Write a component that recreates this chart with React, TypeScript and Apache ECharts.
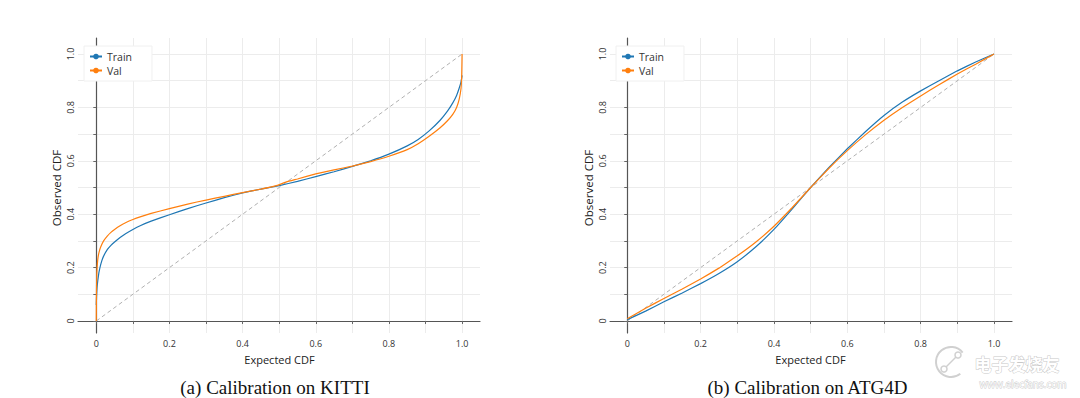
import React, { useEffect, useRef } from "react";
import * as echarts from "echarts";

// ---------- data ----------
const seriesNames = ["Train", "Val"];
const tickValues = [0, 0.1, 0.2, 0.3, 0.4, 0.5, 0.6, 0.7, 0.8, 0.9, 1.0];
const labelValues = [0, 0.2, 0.4, 0.6, 0.8, 1.0];
const diagonal: [number, number][] = [[0, 0], [1, 1]];

// (a) KITTI
const kittiTrain: [number, number][] = [
  [0, 0.06], [0.001, 0.1], [0.002, 0.125], [0.004, 0.15], [0.007, 0.18], [0.01, 0.2],
  [0.015, 0.225], [0.02, 0.243], [0.03, 0.267], [0.04, 0.283], [0.05, 0.296],
  [0.065, 0.313], [0.08, 0.327], [0.1, 0.343], [0.12, 0.357], [0.15, 0.374],
  [0.2, 0.398], [0.25, 0.421], [0.3, 0.442], [0.35, 0.462], [0.4, 0.48],
  [0.45, 0.494], [0.5, 0.507], [0.55, 0.523], [0.6, 0.541], [0.65, 0.559],
  [0.7, 0.579], [0.75, 0.6], [0.8, 0.625], [0.85, 0.656], [0.88, 0.68],
  [0.91, 0.712], [0.94, 0.752], [0.96, 0.786], [0.975, 0.818], [0.985, 0.845],
  [0.992, 0.872], [0.997, 0.895], [1.0, 0.92],
];
const kittiVal: [number, number][] = [
  [0, 0], [0.0003, 0.08], [0.0008, 0.14], [0.0015, 0.18], [0.003, 0.215], [0.005, 0.24],
  [0.008, 0.26], [0.012, 0.277], [0.02, 0.3], [0.03, 0.318], [0.04, 0.332],
  [0.05, 0.343], [0.065, 0.357], [0.08, 0.368], [0.1, 0.38], [0.12, 0.39],
  [0.15, 0.403], [0.2, 0.421], [0.25, 0.438], [0.3, 0.453], [0.35, 0.467],
  [0.4, 0.481], [0.45, 0.494], [0.49, 0.506], [0.52, 0.521], [0.55, 0.532],
  [0.6, 0.551], [0.65, 0.566], [0.7, 0.58], [0.75, 0.597], [0.8, 0.617],
  [0.85, 0.642], [0.88, 0.664], [0.91, 0.692], [0.94, 0.724], [0.96, 0.75],
  [0.975, 0.775], [0.985, 0.8], [0.992, 0.83], [0.997, 0.87], [0.999, 0.92], [1.0, 1.0],
];

// (b) ATG4D
const atgTrain: [number, number][] = [
  [0, 0.005], [0.05, 0.037], [0.1, 0.072], [0.15, 0.105], [0.2, 0.14], [0.25, 0.178],
  [0.3, 0.222], [0.35, 0.277], [0.4, 0.343], [0.45, 0.42], [0.5, 0.5],
  [0.55, 0.575], [0.6, 0.645], [0.65, 0.71], [0.7, 0.77], [0.75, 0.82],
  [0.8, 0.862], [0.85, 0.9], [0.9, 0.937], [0.95, 0.97], [1.0, 1.0],
];
const atgVal: [number, number][] = [
  [0, 0.008], [0.05, 0.048], [0.1, 0.084], [0.15, 0.12], [0.2, 0.157], [0.25, 0.198],
  [0.3, 0.244], [0.35, 0.295], [0.4, 0.355], [0.45, 0.425], [0.5, 0.5],
  [0.55, 0.572], [0.6, 0.638], [0.65, 0.698], [0.7, 0.752], [0.75, 0.8],
  [0.8, 0.843], [0.85, 0.885], [0.9, 0.925], [0.95, 0.962], [1.0, 1.0],
];

const captions = ["(a) Calibration on KITTI", "(b) Calibration on ATG4D"];
const xName = "Expected CDF";
const yName = "Observed CDF";

// ---------- styles ----------
const FONT = "'Open Sans', 'Noto Sans', sans-serif";
const BLUE = "#1f77b4";
const ORANGE = "#ff7f0e";
const fmt = (v: number) => (v === 0 ? "0" : v.toFixed(1));

function xAxis(gridIndex: number, min: number, max: number) {
  return {
    type: "value",
    gridIndex,
    min,
    max,
    axisLine: { show: true, lineStyle: { color: "#555", width: 1.2 } },
    axisTick: { show: true, customValues: tickValues, length: 3, lineStyle: { color: "#666" } },
    axisLabel: { customValues: labelValues, formatter: fmt, fontSize: 9, color: "#333", margin: 6, fontFamily: FONT },
    splitLine: { show: true, lineStyle: { color: "#ececec", width: 1 } },
  };
}
function yAxis(gridIndex: number) {
  return {
    type: "value",
    gridIndex,
    min: -0.045,
    max: 1.06,
    axisLine: { show: true, lineStyle: { color: "#555", width: 1.2 } },
    axisTick: { show: true, customValues: tickValues, length: 3, lineStyle: { color: "#666" } },
    axisLabel: { customValues: labelValues, formatter: fmt, fontSize: 9, color: "#333", margin: 3, rotate: 90, fontFamily: FONT },
    splitLine: { show: true, lineStyle: { color: "#ececec", width: 1 } },
  };
}
function lineSeries(name: string, data: [number, number][], color: string, idx: number) {
  return {
    type: "line",
    name,
    data,
    xAxisIndex: idx,
    yAxisIndex: idx,
    showSymbol: false,
    symbol: "circle",
    symbolSize: 5,
    smooth: 0.1,
    color,
    lineStyle: { color, width: 1.2 },
    itemStyle: { color },
    z: 3,
  };
}
function diag(idx: number) {
  return {
    type: "line",
    name: "diag",
    data: diagonal,
    xAxisIndex: idx,
    yAxisIndex: idx,
    showSymbol: false,
    lineStyle: { color: "#b0b0b0", width: 1, type: [4, 3] },
    z: 2,
    silent: true,
  };
}
function legend(left: number) {
  return {
    data: seriesNames,
    orient: "vertical",
    left,
    top: 46,
    itemWidth: 12,
    itemHeight: 7,
    itemGap: 3,
    padding: [5, 20, 5, 5],
    backgroundColor: "#ffffff",
    borderColor: "#f0f0f0",
    borderWidth: 1,
    textStyle: { fontSize: 10.5, color: "#333", fontFamily: FONT },
  };
}

export default function App() {
  const ref = useRef<HTMLDivElement>(null);
  useEffect(() => {
    if (!ref.current) return;
    const chart = echarts.init(ref.current, undefined, { renderer: "svg" });
    chart.setOption({
      animation: false,
      backgroundColor: "#ffffff",
      grid: [
        { left: 78, top: 38, width: 402, height: 295 },
        { left: 610, top: 38, width: 402, height: 295 },
      ],
      xAxis: [xAxis(0, -0.05, 1.049), xAxis(1, -0.047, 1.049)],
      yAxis: [yAxis(0), yAxis(1)],
      legend: [legend(84), legend(616)],
      series: [
        diag(0),
        lineSeries("Train", kittiTrain, BLUE, 0),
        lineSeries("Val", kittiVal, ORANGE, 0),
        diag(1),
        lineSeries("Train", atgTrain, BLUE, 1),
        lineSeries("Val", atgVal, ORANGE, 1),
      ],
      graphic: [
        { type: "text", x: 279.5, y: 359, style: { text: xName, fontSize: 11, fill: "#222", align: "center", verticalAlign: "middle", fontFamily: FONT } },
        { type: "text", x: 810.5, y: 359, style: { text: xName, fontSize: 11, fill: "#222", align: "center", verticalAlign: "middle", fontFamily: FONT } },
        { type: "text", x: 56, y: 188, rotation: Math.PI / 2, style: { text: yName, fontSize: 11.5, fill: "#222", align: "center", verticalAlign: "middle", fontFamily: FONT } },
        { type: "text", x: 588, y: 188, rotation: Math.PI / 2, style: { text: yName, fontSize: 11.5, fill: "#222", align: "center", verticalAlign: "middle", fontFamily: FONT } },
        { type: "text", x: 275, y: 387, style: { text: captions[0], fontSize: 19, fill: "#111", align: "center", verticalAlign: "middle", fontFamily: "'Liberation Serif', 'DejaVu Serif', serif" } },
        { type: "text", x: 807.5, y: 387, style: { text: captions[1], fontSize: 19, fill: "#111", align: "center", verticalAlign: "middle", fontFamily: "'Liberation Serif', 'DejaVu Serif', serif" } },
        // watermark
        { type: "arc", shape: { cx: 951, cy: 362, r: 15, startAngle: 0.9, endAngle: 5.6 }, style: { stroke: "#d0d0d0", fill: "none", lineWidth: 2 }, z: 10 },
        { type: "line", shape: { x1: 944, y1: 369, x2: 958, y2: 355 }, style: { stroke: "#d0d0d0", lineWidth: 1.5 }, z: 10 },
        { type: "circle", shape: { cx: 944, cy: 369, r: 3 }, style: { stroke: "#d0d0d0", fill: "#fff", lineWidth: 1.5 }, z: 10 },
        { type: "circle", shape: { cx: 958, cy: 355, r: 3 }, style: { stroke: "#d0d0d0", fill: "#fff", lineWidth: 1.5 }, z: 10 },
        { type: "text", x: 1017, y: 363, style: { text: "电子发烧友", fontSize: 17, fill: "#ffffff", stroke: "#c8c8c8", lineWidth: 1, align: "center", verticalAlign: "middle", fontFamily: "'Noto Sans CJK SC', sans-serif", fontWeight: "bold" }, z: 10 },
        { type: "text", x: 1023, y: 384, style: { text: "www.elecfans.com", fontSize: 10, fill: "#ffffff", stroke: "#c8c8c8", lineWidth: 0.8, align: "center", verticalAlign: "middle", fontFamily: FONT }, z: 10 },
      ],
    });
    return () => chart.dispose();
  }, []);
  return <div ref={ref} style={{ position: "absolute", left: 0, top: 0, width: 1080, height: 398 }} />;
}
